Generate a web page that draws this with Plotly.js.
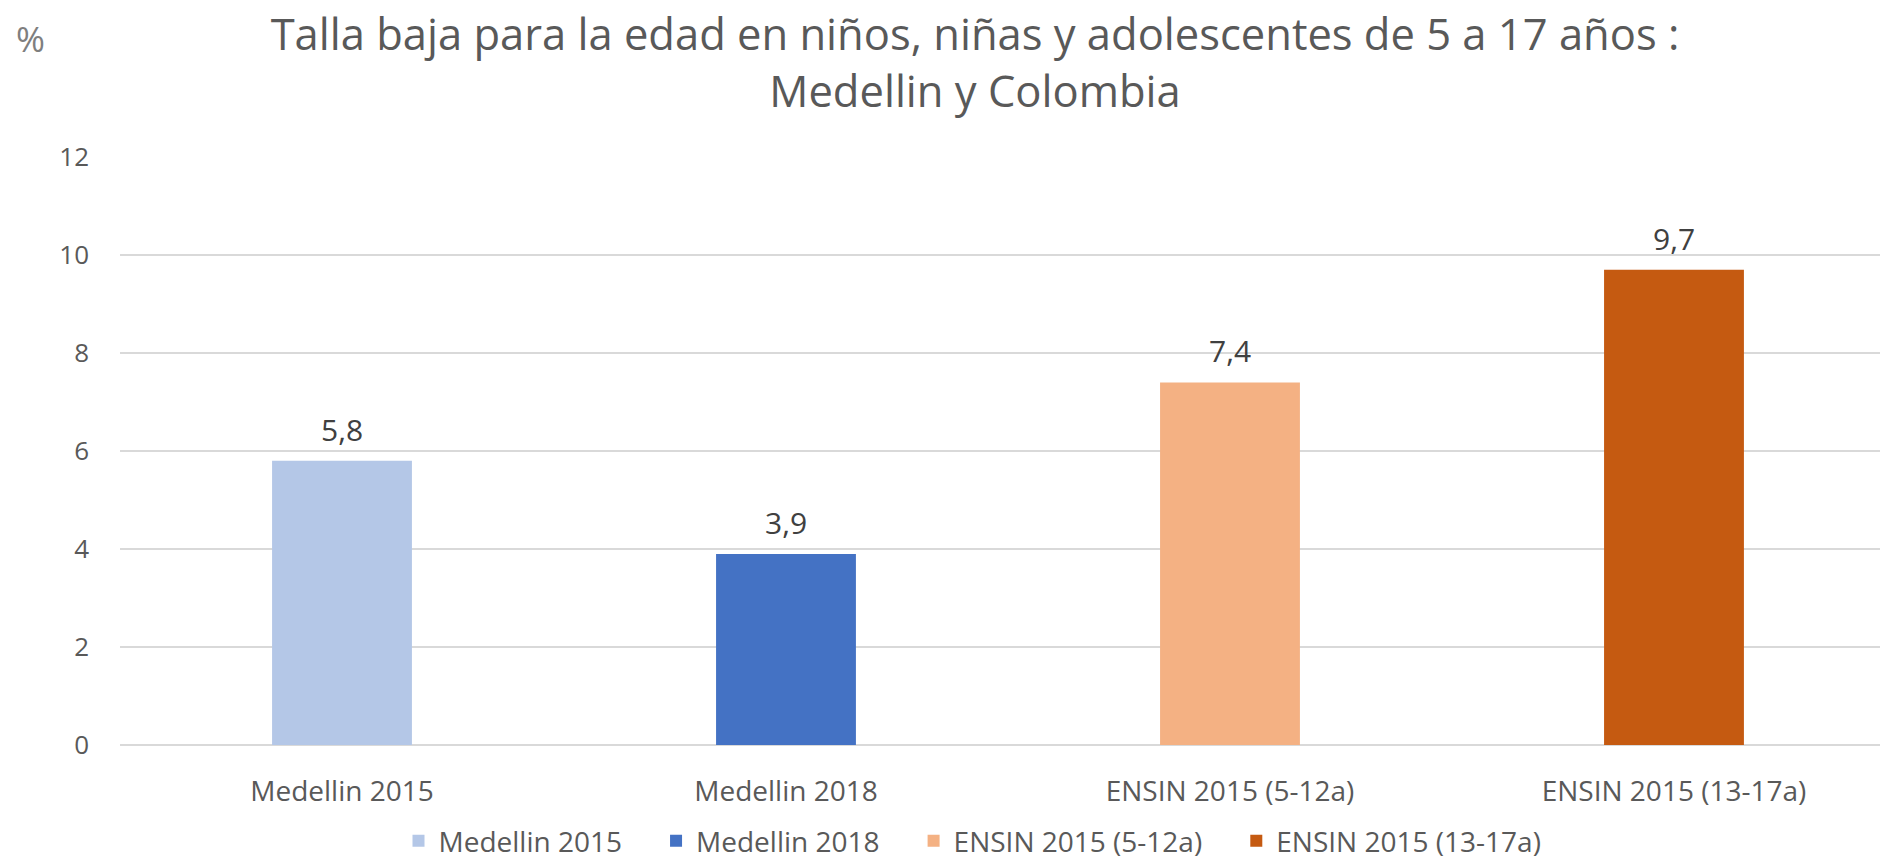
<!DOCTYPE html>
<html>
<head>
<meta charset="utf-8">
<script src="https://cdn.plot.ly/plotly-3.0.1.min.js"></script>
<style>html,body{margin:0;padding:0;background:#fff;}#chart{width:1880px;height:866px;}</style>
</head>
<body>
<div id="chart"></div>
<script>
const categories = ["Medellin 2015", "Medellin 2018", "ENSIN 2015 (5-12a)", "ENSIN 2015 (13-17a)"];
const values = [5.8, 3.9, 7.4, 9.7];
const colors = ["#B4C7E7", "#4472C4", "#F4B183", "#C55A11"];
const yTicks = [0, 2, 4, 6, 8, 10, 12];
const titleText = "Talla baja para la edad en niños, niñas y adolescentes de 5 a 17 años :<br>Medellin y Colombia";
const yUnit = "%";

const FONT = "Open Sans, sans-serif";
const W = 1880, H = 866;
const M = { l: 120, r: 0, t: 157, b: 121 };
const pw = W - M.l - M.r, ph = H - M.t - M.b;
const legendPad = "\u00a0\u00a0\u00a0\u00a0";

const traces = categories.map((c, i) => ({
  type: "bar",
  name: c + legendPad,
  x: [c],
  y: [values[i]],
  width: 0.315,
  marker: { color: colors[i] },
  hovertemplate: c + ": %{y}<extra></extra>"
}));

const annotations = categories.map((c, i) => ({
  x: c, y: values[i], xref: "x", yref: "y",
  text: values[i].toFixed(1).replace(".", ","),
  showarrow: false, yanchor: "bottom", yshift: 9,
  font: { family: FONT, size: 30, color: "#404040" }
}));
annotations.push({
  x: (14 - M.l) / pw, y: (H - M.b - 38) / ph, xref: "paper", yref: "paper",
  xanchor: "left", yanchor: "middle",
  text: yUnit, showarrow: false,
  font: { family: FONT, size: 35, color: "#7F7F7F" }
});

const layout = {
  width: W, height: H,
  margin: M,
  paper_bgcolor: "#fff", plot_bgcolor: "#fff",
  barmode: "overlay",
  showlegend: true,
  title: {
    text: titleText,
    x: 975 / W, xanchor: "center", xref: "container",
    y: 1 - 50 / H, yanchor: "middle", yref: "container",
    font: { family: FONT, size: 43.5, color: "#595959" }
  },
  xaxis: {
    type: "category",
    categoryorder: "array", categoryarray: categories,
    range: [-0.5, 3.464],
    showgrid: false, zeroline: false, showline: false,
    ticks: "outside", ticklen: 21, tickcolor: "rgba(0,0,0,0)",
    tickfont: { family: FONT, size: 28, color: "#595959" },
    fixedrange: true
  },
  yaxis: {
    range: [0, 12],
    tickvals: yTicks,
    ticktext: yTicks.map(String),
    showgrid: true, gridcolor: "#D9D9D9", gridwidth: 1.5,
    zeroline: true, zerolinecolor: "#D9D9D9", zerolinewidth: 1.5,
    showline: false,
    ticklabelstandoff: 30,
    tickfont: { family: FONT, size: 26, color: "#595959" },
    fixedrange: true
  },
  legend: {
    orientation: "h",
    x: 987 / W, xref: "container", xanchor: "center",
    y: 0, yref: "container", yanchor: "bottom",
    font: { family: FONT, size: 28, color: "#595959" },
    itemclick: false, itemdoubleclick: false,
    traceorder: "normal"
  },
  annotations: annotations
};

Plotly.newPlot("chart", traces, layout, { displayModeBar: false });
</script>
</body>
</html>
